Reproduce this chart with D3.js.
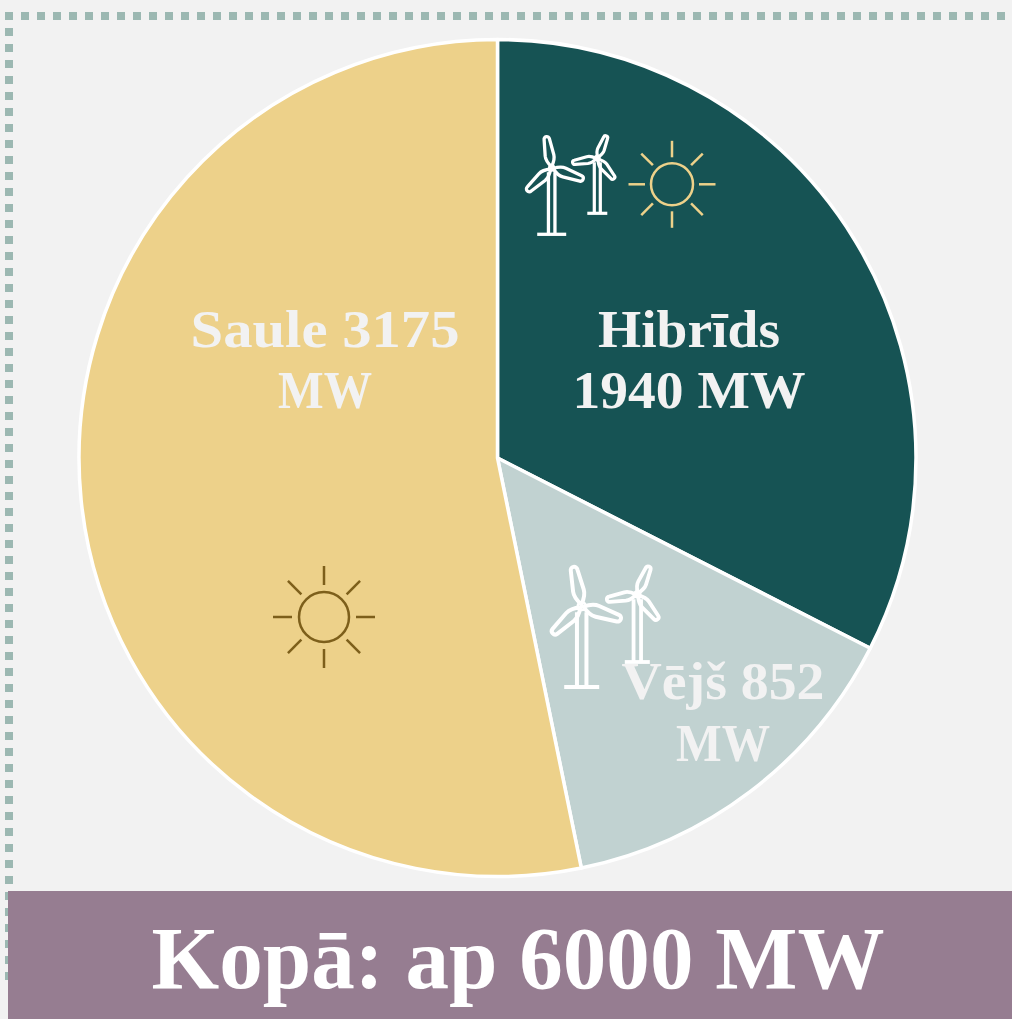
<!DOCTYPE html>
<html><head><meta charset="utf-8">
<script src="https://cdn.jsdelivr.net/npm/d3@7"></script>
<style>html,body{margin:0;padding:0;background:#f2f2f2}svg{display:block}text{font-family:"Liberation Serif",serif;font-weight:700}</style>
</head><body><svg id="c" width="1012" height="1019"></svg>
<script>
const categories = ["Hibrīds", "Vējš", "Saule"];
const values = [1940, 852, 3175];
const colors = ["#165354", "#C1D2D1", "#EDD18A"];
const labelLines = [["Hibrīds", "1940 MW"], ["Vējš 852", "MW"], ["Saule 3175", "MW"]];
const labelColors = ["#F2F2F2", "#F2F2F2", "#F2F2F2"];
const totalLabel = "Kopā: ap 6000 MW";

const svg = d3.select("#c");
svg.append("rect").attr("width",1012).attr("height",1019).attr("fill","#F2F2F2");

// dotted frame
const frame = svg.append("g").attr("fill","#9CB8B2");
frame.selectAll(".t").data(d3.range(5,1012,16)).join("rect").attr("x",d=>d).attr("y",12).attr("width",8).attr("height",8);
frame.selectAll(".l").data(d3.range(28,975,16)).join("rect").attr("x",5).attr("y",d=>d).attr("width",8).attr("height",8);

// pie
const cx=497.5, cy=458, R=418.5;
const pie = d3.pie().sort(null).value(d=>d)(values);
const arc = d3.arc().innerRadius(0).outerRadius(R);
const g = svg.append("g").attr("transform",`translate(${cx},${cy})`);
g.selectAll("path").data(pie).join("path").attr("d",arc)
 .attr("fill",(d,i)=>colors[i]).attr("stroke","#fff").attr("stroke-width",3.5).attr("stroke-linejoin","round");

// icons
function turbine(hub,tips,baseY,baseW,towerW,lw){
  const t=svg.append("g").attr("fill","none").attr("stroke","#fff").attr("stroke-width",lw).attr("stroke-linecap","butt").attr("stroke-linejoin","round");
  const s=towerW/2;
  t.append("path").attr("d",`M${hub[0]-s},${hub[1]+s*1.3}L${hub[0]-s},${baseY}M${hub[0]+s},${hub[1]+s*1.3}L${hub[0]+s},${baseY}`);
  t.append("path").attr("d",`M${hub[0]-baseW/2},${baseY}L${hub[0]+baseW/2},${baseY}`);
  tips.forEach(p=>{
    const dx=p[0]-hub[0],dy=p[1]-hub[1],L=Math.hypot(dx,dy),ux=dx/L,uy=dy/L,nx=-uy,ny=ux;
    const w=L*0.13,tw=L*0.08,a=L*0.38,st=L*0.04,e=L-lw/2-tw;
    const P=(al,of)=>[hub[0]+ux*al+nx*of,hub[1]+uy*al+ny*of].map(v=>v.toFixed(1)).join(",");
    t.append("path").attr("d",`M${P(st,0)}Q${P(a*0.6,w*1.1)} ${P(a,w)}L${P(e,tw)}A${tw},${tw} 0 0 0 ${P(e,-tw)}L${P(a,-w)}Q${P(a*0.6,-w*1.1)} ${P(st,0)}Z`);
  });
  t.append("circle").attr("cx",hub[0]).attr("cy",hub[1]).attr("r",towerW*0.42).attr("stroke-width",lw*0.6);
}
function sun(c,r,r0,r1,col,lw){
  const s=svg.append("g").attr("fill","none").attr("stroke",col).attr("stroke-width",lw);
  s.append("circle").attr("cx",c[0]).attr("cy",c[1]).attr("r",r);
  d3.range(8).forEach(i=>{const a=i*Math.PI/4;
    s.append("line").attr("x1",c[0]+r0*Math.cos(a)).attr("y1",c[1]+r0*Math.sin(a)).attr("x2",c[0]+r1*Math.cos(a)).attr("y2",c[1]+r1*Math.sin(a));});
}
turbine([551.7,168],[[546,135],[585,180],[526,192]],234.3,29,6.5,3.3);
turbine([597.3,158.3],[[607,134.5],[571,163],[615,180]],213.3,20,6,3.2);
sun([672,184.3],21,27,43.5,"#EDD18A",2.5);
turbine([581.7,606],[[573,565],[623,620],[551,635]],687,35,9.5,4);
turbine([637.3,594.3],[[650,564.5],[605,600],[659,621]],662,25,7.5,3.8);
sun([324,617],25,32,51,"#7D5F1B",2.5);

// labels
const labelGeom=[[689,[347,408],[182,233]],[723,[699,761],[203,94]],[325,[347,408],[269,94]]];
labelLines.forEach((lines,i)=>{
  lines.forEach((s,j)=>{
    svg.append("text").attr("x",labelGeom[i][0]).attr("y",labelGeom[i][1][j]).attr("text-anchor","middle")
      .attr("font-size",53).attr("fill",labelColors[i])
      .attr("textLength",labelGeom[i][2][j]).attr("lengthAdjust","spacingAndGlyphs").text(s);
  });
});

// banner
svg.append("rect").attr("x",8).attr("y",891).attr("width",1004).attr("height",128).attr("fill","#967D91");
svg.append("text").attr("x",518).attr("y",988).attr("text-anchor","middle").attr("font-size",88).attr("fill","#fff")
  .attr("textLength",733).attr("lengthAdjust","spacingAndGlyphs").text(totalLabel);
</script></body></html>
